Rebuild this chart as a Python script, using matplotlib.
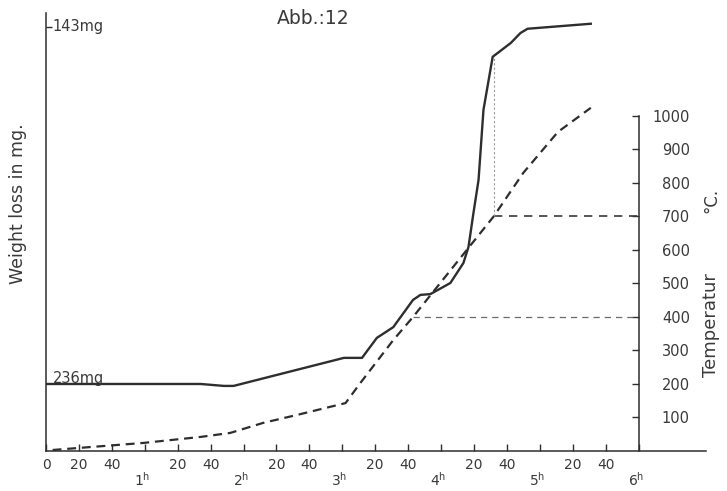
import numpy as np
import matplotlib.pyplot as plt

# time in minutes, temperature in deg C (dashed curve)
temp_time = [4, 59, 94, 112, 132, 152, 182, 191, 211, 223, 272, 290, 311, 331]
temp_vals = [3, 24, 42, 54, 84, 107, 143, 203, 331, 400, 700, 830, 952, 1024]

# sample weight in mg (solid curve)
wt_time = [0, 94, 108, 114, 181, 192, 201, 211, 223, 227.5, 233.5, 245.7, 253.6,
           256.7, 259.7, 262.8, 265.8, 271.4, 282.4, 288.3, 292.6, 331]
wt_vals = [236, 236, 236.5, 236.5, 229.2, 229.2, 224, 221.2, 214.1, 212.8, 212.6,
           209.7, 204.5, 200.3, 191.5, 182.9, 164.6, 150.8, 147.2, 144.6, 143.5, 142.2]

marker_temps = [400, 700]
temp_ticks = [100, 200, 300, 400, 500, 600, 700, 800, 900, 1000]
minute_ticks = list(range(0, 361, 20))
minute_labels = ['' if (m % 60 == 0 and m > 0) else str(m % 60) for m in minute_ticks]
hour_ticks = [60, 120, 180, 240, 300, 360]
hour_labels = ['1', '2', '3', '4', '5', '6']

ink = '#2e2e2e'
txt = '#3a3a3a'
T_TOP = 1307
W_BOTTOM, W_TOP = 253.45, 139.4

fig = plt.figure(figsize=(7.27, 4.91), dpi=100)
ax = fig.add_axes([46 / 727, 40 / 491, 660 / 727, 438 / 491])
ax.set_xlim(0, 401)
ax.set_ylim(0, T_TOP)

ax2 = ax.twinx()
ax2.set_ylim(W_BOTTOM, W_TOP)
for s in ax2.spines.values():
    s.set_visible(False)

# temperature and weight curves
ax.plot(temp_time, temp_vals, color=ink, lw=1.6, dashes=(4, 2.6))
ax2.plot(wt_time, wt_vals, color=ink, lw=1.7)

# reference lines at 400 and 700 deg C
for T, lw, col in zip(marker_temps, [0.9, 1.2], ['#6a6a6a', '#3a3a3a']):
    t_cross = np.interp(T, temp_vals, temp_time)
    ax.plot([t_cross, 360], [T, T], color=col, lw=lw, dashes=(5, 4))

t700 = np.interp(700, temp_vals, temp_time)
w_at = np.interp(t700, wt_time, wt_vals)
w_700 = W_BOTTOM + (W_TOP - W_BOTTOM) * 700 / T_TOP
ax2.plot([t700, t700], [w_700, w_at], color='#9a9a9a', lw=0.8, dashes=(2, 2))

# axes: left spine, bottom time axis, temperature scale at 6h
ax.spines['top'].set_visible(False)
for s in ['left', 'bottom', 'right']:
    ax.spines[s].set_color(ink)
    ax.spines[s].set_linewidth(1.1)
ax.spines['right'].set_position(('data', 360))
ax.spines['right'].set_bounds(0, 1000)
ax.yaxis.tick_right()
ax.set_yticks(temp_ticks)
ax.set_yticklabels([str(v) for v in temp_ticks])
ax.tick_params(axis='y', direction='in', length=5, width=1, color=ink,
               labelsize=10.5, labelcolor=txt, pad=37)
for lab in ax.get_yticklabels():
    lab.set_ha('right')

ax.set_xticks(minute_ticks)
ax.set_xticklabels(minute_labels)
ax.tick_params(axis='x', direction='in', length=5, width=1, color=ink,
               labelsize=10, labelcolor=txt, pad=5)
for t, h in zip(hour_ticks, hour_labels):
    ax.annotate(h + r'$^{\mathrm{h}}$', (t, 0), xycoords=('data', 'axes fraction'),
                xytext=(-2, -21), textcoords='offset points', ha='center', va='center',
                fontsize=10, color=txt)

ax2.set_yticks([143])
ax2.yaxis.tick_left()
ax2.tick_params(axis='y', direction='in', length=4, width=1, color=ink, labelleft=False)
ax2.text(4, 143, '143mg', fontsize=10.5, color=txt, va='center', ha='left')
ax2.text(4, 236.6, '236mg', fontsize=10.5, color=txt, va='bottom', ha='left')

fig.text(18 / 727, 1 - 204 / 491, 'Weight loss in mg.', rotation=90,
         fontsize=12.5, color=txt, ha='center', va='center')
fig.text(711 / 727, 1 - 325 / 491, 'Temperatur', rotation=90,
         fontsize=13, color=txt, ha='center', va='center')
fig.text(711 / 727, 1 - 200 / 491, '°C.', rotation=90,
         fontsize=12, color=txt, ha='center', va='center')
fig.text(313 / 727, 1 - 18 / 491, 'Abb.:12', fontsize=13.5, color=txt,
         ha='center', va='center')

fig.savefig('out.png', dpi=100, facecolor='white')
